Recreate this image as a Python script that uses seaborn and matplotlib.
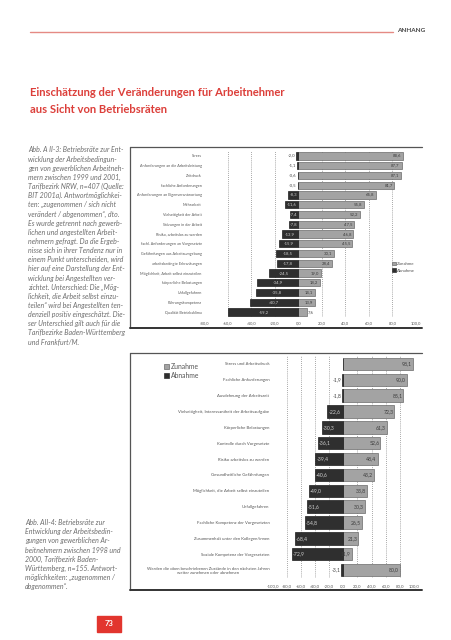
import matplotlib
matplotlib.use("Agg")
import matplotlib.pyplot as plt
from matplotlib.patches import Patch, Rectangle
from matplotlib.lines import Line2D
import seaborn as sns
import pandas as pd

# ---------------- data ----------------
cats1 = ["Stress", "Anforderungen an die Arbeitsleistung", "Zeitdruck",
         "fachliche Anforderungen", "Anforderungen an Eigenverantwortung",
         "Mehrarbeit", "Vielseitigkeit der Arbeit", "Störungen in der Arbeit",
         "Risiko, arbeitslos zu werden", "fachl. Anforderungen an Vorgesetzte",
         "Gefährdungen aus Arbeitsumgebung", "arbeitsbedingte Erkrankungen",
         "Möglichkeit, Arbeit selbst einzuteilen", "körperliche Belastungen",
         "Unfallgefahren", "Führungskompetenz", "Qualität Betriebsklima"]
zunahme1 = [88.6, 87.7, 87.1, 81.7, 65.8, 55.8, 52.2, 47.5, 46.8, 45.5,
            30.1, 28.4, 19.0, 18.2, 14.1, 13.9, 7.6]
abnahme1 = [-2.0, -1.1, -0.6, -0.5, -8.3, -11.6, -7.4, -7.8, -13.9, -15.9,
            -18.5, -17.8, -24.5, -34.9, -35.8, -40.7, -59.2]
ticks1 = [-80, -60, -40, -20, 0, 20, 40, 60, 80, 100]

cats2 = ["Stress und Arbeitsdruck", "Fachliche Anforderungen",
         "Ausdehnung der Arbeitszeit",
         "Vielseitigkeit, Interessantheit der Arbeitsaufgabe",
         "Körperliche Belastungen", "Kontrolle durch Vorgesetzte",
         "Risiko arbeitslos zu werden", "Gesundheitliche Gefährdungen",
         "Möglichkeit, die Arbeit selbst einzuteilen", "Unfallgefahren",
         "Fachliche Kompetenz der Vorgesetzten",
         "Zusammenhalt unter den Kollegen/innen",
         "Soziale Kompetenz der Vorgesetzten",
         "Werden die oben beschriebenen Zustände in den nächsten Jahren\nweiter zunehmen oder abnehmen"]
zunahme2 = [98.1, 90.0, 85.1, 72.3, 61.3, 52.6, 48.4, 43.2, 33.8, 30.3,
            26.5, 21.3, 11.9, 80.0]
abnahme2 = [0.0, -1.9, -1.8, -22.6, -30.3, -36.1, -39.4, -40.6, -49.0, -51.6,
            -54.8, -68.4, -72.9, -3.1]
ticks2 = [-100, -80, -60, -40, -20, 0, 20, 40, 60, 80, 100]

series_names = ["Zunahme", "Abnahme"]

caption1 = ["Abb. A II-3: Betriebsräte zur Ent-",
            "wicklung der Arbeitsbedingun-",
            "gen von gewerblichen Arbeitneh-",
            "mern zwischen 1999 und 2001,",
            "Tarifbezirk NRW, n=407 (Quelle:",
            "BIT 2001a). Antwortmöglichkei-",
            "ten: „zugenommen / sich nicht",
            "verändert / abgenommen“, dto.",
            "Es wurde getrennt nach gewerb-",
            "lichen und angestellten Arbeit-",
            "nehmern gefragt. Da die Ergeb-",
            "nisse sich in ihrer Tendenz nur in",
            "einem Punkt unterscheiden, wird",
            "hier auf eine Darstellung der Ent-",
            "wicklung bei Angestellten ver-",
            "zichtet. Unterschied: Die „Mög-",
            "lichkeit, die Arbeit selbst einzu-",
            "teilen“ wird bei Angestellten ten-",
            "denziell positiv eingeschätzt. Die-",
            "ser Unterschied gilt auch für die",
            "Tarifbezirke Baden-Württemberg",
            "und Frankfurt/M."]
caption2 = ["Abb. AII-4: Betriebsräte zur",
            "Entwicklung der Arbeitsbedin-",
            "gungen von gewerblichen Ar-",
            "beitnehmern zwischen 1998 und",
            "2000, Tarifbezirk Baden-",
            "Württemberg, n=155. Antwort-",
            "möglichkeiten: „zugenommen /",
            "abgenommen“."]

# ---------------- style ----------------
sns.set_theme(style="white")
plt.rcParams["font.family"] = ["Lato", "DejaVu Sans"]

W, H = 452, 640
RED = "#dc3f3a"
LIGHT = "#a3a3a3"
LIGHT_EDGE = "#6b6b6b"
DARK = "#2f2f2f"
TXT = "#555555"

fig = plt.figure(figsize=(W / 100, H / 100), dpi=100)
fig.patch.set_facecolor("white")


def fx(x):
    return x / W


def fy(y):
    return 1 - y / H


def add_axes_px(l, t, r, b):
    return fig.add_axes([fx(l), fy(b), (r - l) / W, (b - t) / H])


def fmt(v):
    return f"{v:.1f}".replace(".", ",")


def hline(x0, x1, y, lw, color):
    fig.add_artist(Line2D([fx(x0), fx(x1)], [fy(y), fy(y)], lw=lw, color=color,
                          transform=fig.transFigure))


def vline(x, y0, y1, lw, color):
    fig.add_artist(Line2D([fx(x), fx(x)], [fy(y0), fy(y1)], lw=lw, color=color,
                          transform=fig.transFigure))


# ---------------- header ----------------
hline(30, 393, 31.5, 1.0, "#e58a84")
fig.text(fx(397), fy(30.5), "ANHANG", fontsize=4.6, fontweight="bold",
         color="#444444", ha="left", va="center")
fig.text(fx(30), fy(92), "Einschätzung der Veränderungen für Arbeitnehmer",
         fontsize=8.1, fontweight="bold", color=RED, ha="left", va="center")
fig.text(fx(30), fy(109.5), "aus Sicht von Betriebsräten",
         fontsize=8.1, fontweight="bold", color=RED, ha="left", va="center")

# captions
CAP = dict(fontsize=5.0, style="italic", color="#6e6e6e", ha="left",
           va="center")
for i, line in enumerate(caption1):
    fig.text(fx(28), fy(150 + i * 9.15), line, **CAP)
for i, line in enumerate(caption2):
    fig.text(fx(25), fy(522.7 + i * 9.15), line, **CAP)

# page number
fig.add_artist(Rectangle((fx(97), fy(632)), 24 / W, 16 / H, color="#e2352e",
                         transform=fig.transFigure))
fig.text(fx(109), fy(624), "73", fontsize=5.5, fontweight="bold", color="white",
         ha="center", va="center")

# chart frames
hline(130, 422, 147, 0.9, "#555555")
vline(130, 147, 328, 0.9, "#555555")
hline(130, 422, 328, 1.4, "#333333")
hline(130, 422, 353, 0.9, "#555555")
vline(130, 353, 590, 0.9, "#555555")
hline(130, 422, 590, 1.4, "#333333")


def draw_chart(ax, cats, zun, abn, ticks, xlim, width, lab_fs, cat_fs,
               tick_fs, cat_pad, tick_pad, dark_center):
    df = pd.DataFrame({"cat": cats, "Zunahme": zun, "Abnahme": abn})
    sns.barplot(data=df, x="Zunahme", y="cat", orient="h", color=LIGHT,
                saturation=1, width=width, edgecolor=LIGHT_EDGE, linewidth=0.5,
                ax=ax, zorder=3)
    sns.barplot(data=df, x="Abnahme", y="cat", orient="h", color=DARK,
                saturation=1, width=width, edgecolor="#1e1e1e", linewidth=0.5,
                ax=ax, zorder=3)
    ax.set_xlim(*xlim)
    ax.set_xticks(ticks)
    ax.set_xticklabels([fmt(t) for t in ticks])
    ax.set_xlabel("")
    ax.set_ylabel("")
    for s in ax.spines.values():
        s.set_visible(False)
    ax.tick_params(axis="x", length=0, labelsize=tick_fs, colors=TXT,
                   pad=tick_pad)
    ax.tick_params(axis="y", length=0, labelsize=cat_fs, colors=TXT,
                   pad=cat_pad)
    for lbl in ax.get_yticklabels():
        lbl.set_multialignment("center")
    for t in ticks:
        if t in (xlim[0], 0):
            continue
        ax.axvline(t, color="#8a8a8a", lw=0.6, ls=(0, (1, 1.5)), zorder=1)
    ax.set_facecolor("none")

    cz, ca = ax.containers[0], ax.containers[1]
    for p, v in zip(cz.patches, zun):
        if v <= 0:
            continue
        xe = p.get_x() + p.get_width()
        yc = p.get_y() + p.get_height() / 2
        if v < 10:
            ax.text(xe + 0.5, yc, fmt(v), ha="left", va="center",
                    fontsize=lab_fs, color="#444444", zorder=5)
        else:
            ax.text(xe - 1.5, yc, fmt(v), ha="right", va="center",
                    fontsize=lab_fs, color="#3c3c3c", zorder=5)
    for p, v in zip(ca.patches, abn):
        if v >= 0:
            continue
        x0 = p.get_x()
        x1 = p.get_x() + p.get_width()
        left = min(x0, x1)
        yc = p.get_y() + p.get_height() / 2
        if abs(v) < 6:
            ax.text(left - 0.8, yc, fmt(v), ha="right", va="center",
                    fontsize=lab_fs, color="#444444", zorder=5)
        elif dark_center:
            ax.text(left / 2, yc, fmt(v), ha="center", va="center",
                    fontsize=lab_fs, color="#cfcfcf", zorder=5)
        else:
            ax.text(left + 1.5, yc, fmt(v), ha="left", va="center",
                    fontsize=lab_fs, color="#cfcfcf", zorder=5)


# chart 1
ax1 = add_axes_px(204, 151, 416, 317)
draw_chart(ax1, cats1, zunahme1, abnahme1, ticks1, (-80, 100), 0.75,
           lab_fs=3.1, cat_fs=2.7, tick_fs=3.0, cat_pad=1.7, tick_pad=2.9,
           dark_center=True)

# chart 2
ax2 = add_axes_px(272.6, 356, 414, 578)
draw_chart(ax2, cats2, zunahme2, abnahme2, ticks2, (-100, 100), 0.78,
           lab_fs=3.7, cat_fs=3.1, tick_fs=3.1, cat_pad=2.4, tick_pad=4.3,
           dark_center=False)

handles = [Patch(facecolor=LIGHT, edgecolor=LIGHT_EDGE, lw=0.5),
           Patch(facecolor=DARK, edgecolor=DARK, lw=0.5)]
fig.legend(handles, series_names, loc="upper left",
           bbox_to_anchor=(fx(392), fy(262)), frameon=False, fontsize=3.2,
           handlelength=0.8, handleheight=0.8, handletextpad=0.3,
           labelspacing=0.5, borderaxespad=0, borderpad=0, labelcolor=TXT)
fig.legend(handles, series_names, loc="upper left",
           bbox_to_anchor=(fx(164), fy(363)), frameon=False, fontsize=4.9,
           handlelength=0.8, handleheight=0.8, handletextpad=0.2,
           labelspacing=0.3, borderaxespad=0, borderpad=0, labelcolor=TXT)

fig.savefig("out.png", dpi=100, facecolor="white")
